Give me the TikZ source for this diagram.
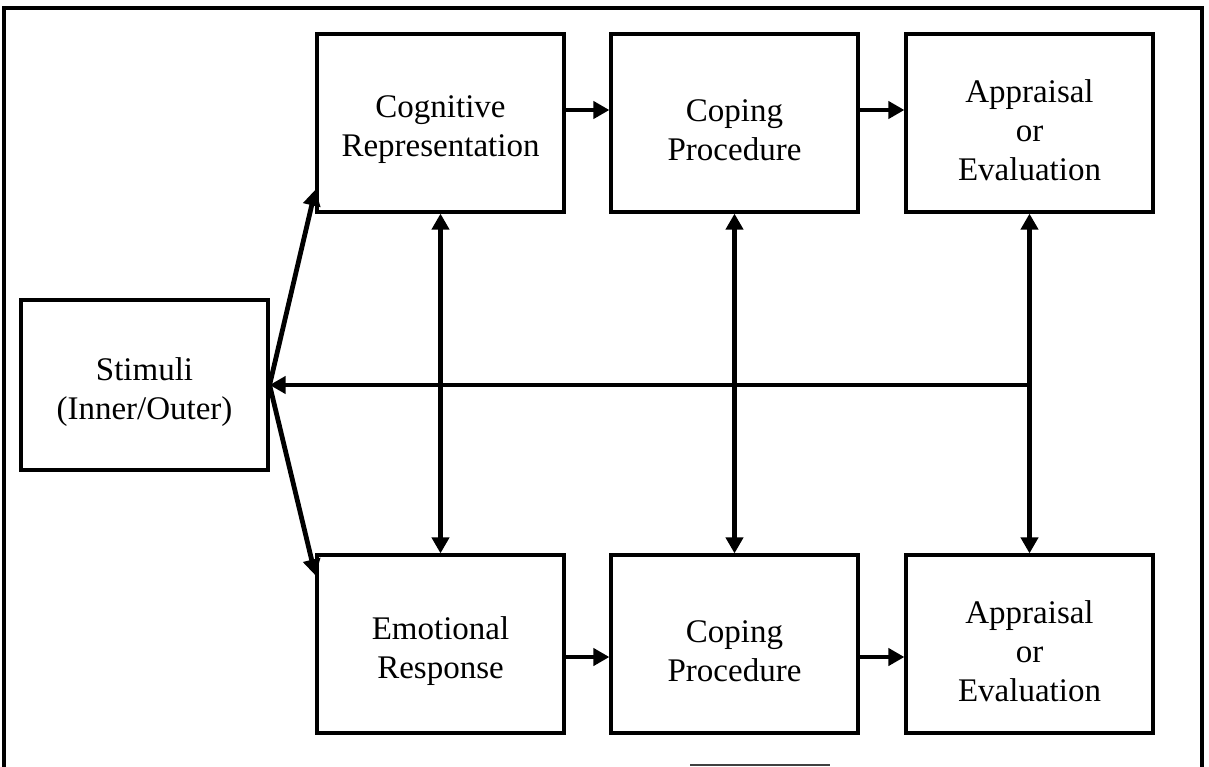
\documentclass[tikz,border=0pt]{standalone}
\usepackage{fontspec}
\setmainfont{Liberation Serif}
\usetikzlibrary{arrows.meta,calc}

\tikzset{
  box/.style={draw, line width=1.6pt, rectangle, minimum width=123.5pt, minimum height=89pt, inner sep=0pt},
  stimbox/.style={box, minimum height=85pt},
  txt/.style={align=center, font=\fontsize{16.5pt}{19.5pt}\selectfont, yshift=-3.5pt, inner sep=0pt},
  arr/.style={line width=2.4pt, -{Triangle[length=8pt,width=8.5pt]}},
  darr/.style={line width=2.3pt, {Triangle[length=8pt,width=8.5pt]}-{Triangle[length=8pt,width=8.5pt]}},
  frame/.style={line width=1.8pt}
}

\begin{document}
\begin{tikzpicture}[x=0.5pt, y=-0.5pt]
  \clip (0,0) rectangle (1209,766);
  \fill[white] (0,0) rectangle (1209,766);

  % outer frame (open at the bottom)
  \draw[frame] (4,790) -- (4,8) -- (1202,8) -- (1202,790);

  % boxes
  \node[stimbox] (stim) at (144.5,385) {};
  \node[box] (cog)  at (440.5,123) {};
  \node[box] (cop1) at (734.5,123) {};
  \node[box] (app1) at (1029.5,123) {};
  \node[box] (emo)  at (440.5,644) {};
  \node[box] (cop2) at (734.5,644) {};
  \node[box] (app2) at (1029.5,644) {};

  % box texts
  \node[txt] (stimt) at (stim) {Stimuli\\(Inner/Outer)};
  \node[txt] (cogt)  at (cog)  {Cognitive\\Representation};
  \node[txt] (cop1t) at (cop1) {Coping\\Procedure};
  \node[txt] (app1t) at (app1) {Appraisal\\or\\Evaluation};
  \node[txt] (emot)  at (emo)  {Emotional\\Response};
  \node[txt] (cop2t) at (cop2) {Coping\\Procedure};
  \node[txt] (app2t) at (app2) {Appraisal\\or\\Evaluation};

  % forward arrows along each row
  \draw[arr] ([yshift=6.5pt]cog.east)  -- ([yshift=6.5pt]cop1.west);
  \draw[arr] ([yshift=6.5pt]cop1.east) -- ([yshift=6.5pt]app1.west);
  \draw[arr] ([yshift=-6.5pt]emo.east)  -- ([yshift=-6.5pt]cop2.west);
  \draw[arr] ([yshift=-6.5pt]cop2.east) -- ([yshift=-6.5pt]app2.west);

  % vertical two-way links between the rows
  \draw[darr] (cog.south)  -- (emo.north);
  \draw[darr] (cop1.south) -- (cop2.north);
  \draw[darr] (app1.south) -- (app2.north);

  % feedback to the stimuli
  \coordinate (fb) at (app1.south |- stim.east);
  \draw[arr] (fb) -- (stim.east);

  % stimuli branch out to both rows
  \draw[arr] (stim.east) -- ([yshift=12pt]cog.south west);
  \draw[arr] (stim.east) -- ([yshift=-11pt]emo.north west);

  % short rule at the foot
  \draw[line width=1pt, black!75] (690,765) -- (830,765);
\end{tikzpicture}
\end{document}
